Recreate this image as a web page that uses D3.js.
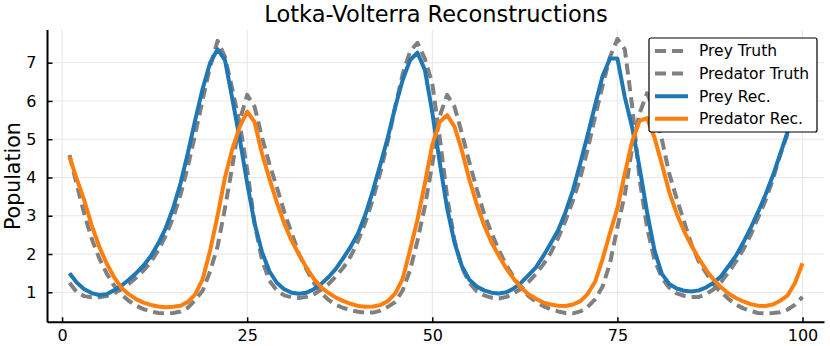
<!DOCTYPE html>
<html>
<head>
<meta charset="utf-8">
<script src="https://cdn.jsdelivr.net/npm/d3@7"></script>
<style>
  body { margin: 0; background: #fff; }
  text { font-family: "DejaVu Sans", sans-serif; }
</style>
</head>
<body>
<div id="chart"></div>
<script>
// time steps 1..100
const steps = d3.range(1, 101);

const preyTruth = [
  1.25, 1.00, 0.90, 0.87, 0.87, 0.90, 0.97, 1.08, 1.22, 1.38,
  1.57, 1.80, 2.10, 2.48, 2.95, 3.55, 4.30, 5.15, 6.05, 6.90,
  7.57, 7.15, 6.30, 5.40, 4.20, 2.80, 1.85, 1.30, 1.05, 0.92,
  0.87, 0.85, 0.88, 0.95, 1.07, 1.22, 1.42, 1.65, 1.95, 2.35,
  2.85, 3.45, 4.15, 4.95, 5.85, 6.70, 7.30, 7.52, 7.10, 6.45,
  5.05, 3.50, 2.35, 1.65, 1.25, 1.03, 0.92, 0.86, 0.84, 0.88,
  0.97, 1.10, 1.27, 1.48, 1.73, 2.03, 2.42, 2.88, 3.40, 4.00,
  4.75, 5.60, 6.40, 7.15, 7.62, 7.35, 5.85, 3.95, 2.70, 1.85,
  1.38, 1.12, 0.97, 0.91, 0.88, 0.88, 0.95, 1.08, 1.27, 1.52,
  1.80, 2.12, 2.50, 2.95, 3.40, 3.95, 4.60, 5.15, 5.70, 6.30
];

const predatorTruth = [
  4.59, 3.80, 3.05, 2.40, 1.90, 1.50, 1.18, 0.95, 0.78, 0.65,
  0.56, 0.50, 0.46, 0.45, 0.46, 0.50, 0.60, 0.80, 1.05, 1.55,
  2.20, 3.20, 4.30, 5.50, 6.16, 5.85, 5.05, 4.35, 3.75, 3.10,
  2.55, 2.00, 1.60, 1.25, 0.98, 0.80, 0.67, 0.59, 0.53, 0.49,
  0.47, 0.47, 0.52, 0.62, 0.75, 1.05, 1.58, 2.35, 3.25, 4.35,
  5.60, 6.16, 5.85, 5.15, 4.40, 3.70, 3.05, 2.55, 2.10, 1.70,
  1.40, 1.10, 0.90, 0.75, 0.64, 0.56, 0.50, 0.46, 0.45, 0.50,
  0.62, 0.82, 1.15, 1.76, 2.70, 3.55, 4.80, 5.68, 6.20, 5.75,
  5.00, 4.10, 3.45, 2.85, 2.25, 1.80, 1.50, 1.20, 1.00, 0.83,
  0.68, 0.58, 0.51, 0.46, 0.45, 0.46, 0.48, 0.55, 0.68, 0.88
];

const preyRec = [
  1.50, 1.25, 1.08, 0.98, 0.93, 0.95, 1.05, 1.17, 1.33, 1.50,
  1.70, 1.95, 2.28, 2.68, 3.20, 3.85, 4.65, 5.52, 6.33, 7.00,
  7.35, 7.07, 6.05, 5.00, 3.85, 2.80, 2.05, 1.55, 1.25, 1.08,
  0.99, 0.96, 0.99, 1.08, 1.22, 1.40, 1.62, 1.90, 2.20, 2.55,
  3.05, 3.67, 4.35, 5.05, 5.85, 6.55, 7.07, 7.26, 6.81, 5.70,
  4.40, 3.20, 2.30, 1.68, 1.33, 1.15, 1.05, 0.99, 0.97, 1.00,
  1.10, 1.25, 1.45, 1.65, 1.95, 2.28, 2.62, 3.10, 3.67, 4.38,
  5.12, 5.90, 6.65, 7.11, 7.11, 6.10, 5.30, 4.25, 3.10, 2.10,
  1.48, 1.22, 1.10, 1.04, 1.02, 1.05, 1.13, 1.25, 1.42, 1.68,
  1.95, 2.30, 2.68, 3.10, 3.55, 4.05, 4.62, 5.20, 5.75, 6.30
];

const predatorRec = [
  4.54, 3.95, 3.40, 2.75, 2.20, 1.76, 1.40, 1.12, 0.95, 0.82,
  0.73, 0.67, 0.63, 0.61, 0.62, 0.65, 0.75, 0.95, 1.35, 2.10,
  3.00, 4.00, 4.75, 5.33, 5.72, 5.45, 4.62, 3.97, 3.35, 2.80,
  2.35, 1.98, 1.65, 1.35, 1.13, 0.98, 0.86, 0.77, 0.70, 0.64,
  0.62, 0.63, 0.67, 0.77, 0.97, 1.35, 2.11, 2.90, 3.85, 4.85,
  5.45, 5.63, 5.33, 4.70, 3.95, 3.30, 2.75, 2.30, 1.95, 1.62,
  1.35, 1.12, 0.95, 0.83, 0.73, 0.68, 0.65, 0.64, 0.68, 0.77,
  0.96, 1.28, 1.87, 2.55, 3.20, 4.10, 4.95, 5.48, 5.55, 5.05,
  4.35, 3.62, 3.06, 2.60, 2.22, 1.88, 1.58, 1.33, 1.13, 0.97,
  0.85, 0.76, 0.69, 0.65, 0.64, 0.68, 0.78, 0.92, 1.25, 1.76
];

const xTicks = [0, 25, 50, 75, 100];
const yTicks = [1, 2, 3, 4, 5, 6, 7];

const series = [
  { name: "Prey Truth", values: preyTruth, color: "#808080", dash: "11,6" },
  { name: "Predator Truth", values: predatorTruth, color: "#808080", dash: "11,6" },
  { name: "Prey Rec.", values: preyRec, color: "#1f77b4", dash: null },
  { name: "Predator Rec.", values: predatorRec, color: "#ff7f0e", dash: null }
];

const width = 830, height = 346;
const margin = { top: 30, right: 5.5, bottom: 23.7, left: 47.5 };

const svg = d3.select("#chart").append("svg")
  .attr("width", width).attr("height", height);

const x = d3.scaleLinear().domain([-1.97, 102.97])
  .range([margin.left, width - margin.right]);
const y = d3.scaleLinear().domain([0.216, 7.854])
  .range([height - margin.bottom, margin.top]);

// grid
const grid = svg.append("g").attr("stroke", "#e6e6e6").attr("stroke-width", 1);
grid.selectAll("line.gx").data(xTicks).join("line")
  .attr("class", "gx")
  .attr("x1", d => x(d)).attr("x2", d => x(d))
  .attr("y1", margin.top).attr("y2", height - margin.bottom);
grid.selectAll("line.gy").data(yTicks).join("line")
  .attr("class", "gy")
  .attr("x1", margin.left).attr("x2", width - margin.right)
  .attr("y1", d => y(d)).attr("y2", d => y(d));

// lines
const line = d3.line().x((d, i) => x(steps[i])).y(d => y(d));
const plot = svg.append("g");
plot.selectAll("path").data(series).join("path")
  .attr("fill", "none")
  .attr("stroke", d => d.color)
  .attr("stroke-width", 4)
  .attr("stroke-linejoin", "round")
  .attr("stroke-dasharray", d => d.dash)
  .attr("d", d => line(d.values));

// axes
const xAxis = svg.append("g")
  .attr("transform", `translate(0,${height - margin.bottom})`)
  .call(d3.axisBottom(x).tickValues(xTicks).tickSizeInner(-5).tickSizeOuter(0).tickPadding(7));
const yAxis = svg.append("g")
  .attr("transform", `translate(${margin.left},0)`)
  .call(d3.axisLeft(y).tickValues(yTicks).tickSizeInner(-5).tickSizeOuter(0).tickPadding(11));

[xAxis, yAxis].forEach(ax => {
  ax.select(".domain").attr("stroke", "#000").attr("stroke-width", 2);
  ax.selectAll(".tick line").attr("stroke", "#000").attr("stroke-width", 1.5);
  ax.selectAll(".tick text")
    .attr("font-family", "DejaVu Sans").attr("font-size", 16).attr("fill", "#000");
});
xAxis.select(".domain").attr("d", `M${margin.left},0H${width - margin.right}`);
yAxis.select(".domain").attr("d", `M0,${margin.top}V${height - margin.bottom}`);

// title and label
svg.append("text")
  .attr("x", (margin.left + width - margin.right) / 2).attr("y", 22)
  .attr("text-anchor", "middle").attr("font-size", 22.5)
  .text("Lotka-Volterra Reconstructions");

svg.append("text")
  .attr("transform", `translate(20,${(margin.top + height - margin.bottom) / 2}) rotate(-90)`)
  .attr("text-anchor", "middle").attr("font-size", 20.5)
  .text("Population");

// legend
const lg = svg.append("g").attr("transform", "translate(649,38)");
lg.append("rect")
  .attr("width", 168).attr("height", 94).attr("rx", 2)
  .attr("fill", "#fff").attr("stroke", "#000").attr("stroke-width", 1.2);
const items = lg.selectAll("g.item").data(series).join("g")
  .attr("transform", (d, i) => `translate(0,${13 + i * 22.6})`);
items.append("line")
  .attr("x1", 6).attr("x2", 39)
  .attr("stroke", d => d.color).attr("stroke-width", 4)
  .attr("stroke-dasharray", d => d.dash);
items.append("text")
  .attr("x", 50).attr("dy", "0.35em").attr("font-size", 15.5)
  .text(d => d.name);
</script>
</body>
</html>
